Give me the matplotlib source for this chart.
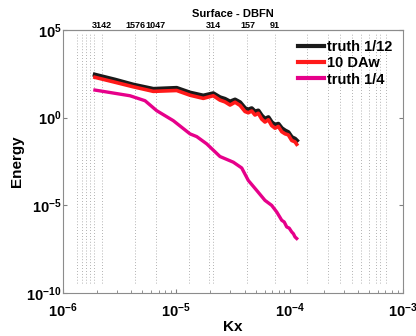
import matplotlib
matplotlib.use('Agg')
import matplotlib.pyplot as plt
import numpy as np

plt.rcParams['font.family'] = ['Liberation Sans', 'DejaVu Sans']
plt.rcParams['font.weight'] = 'bold'
plt.rcParams['mathtext.default'] = 'bf'

# ---- data (log10 values) ----
log_k = [-5.718, -5.541, -5.380, -5.203, -4.997, -4.879, -4.762, -4.674, -4.615,
         -4.571, -4.526, -4.482, -4.438, -4.394, -4.365, -4.335, -4.306, -4.277,
         -4.247, -4.218, -4.188, -4.159, -4.129, -4.100, -4.070, -4.041, -4.012,
         -3.982, -3.953, -3.938]
log_truth12 = [2.443, 2.159, 1.875, 1.631, 1.687, 1.420, 1.250, 1.381, 1.153,
               1.063, 0.909, 1.023, 0.869, 0.528, 0.455, 0.528, 0.341, 0.398,
               0.114, -0.074, 0.017, -0.267, -0.415, -0.358, -0.608, -0.739,
               -0.835, -1.119, -1.210, -1.307]
log_daw = [2.30, 2.02, 1.76, 1.50, 1.55, 1.28, 1.10, 1.25, 1.00, 0.90, 0.72, 0.88,
           0.70, 0.35, 0.28, 0.38, 0.15, 0.25, -0.08, -0.25, -0.12, -0.45, -0.60,
           -0.50, -0.80, -0.92, -0.98, -1.30, -1.38, -1.52]

log_k4 = [-5.718, -5.409, -5.276, -5.173, -5.027, -4.879, -4.820, -4.732, -4.615,
          -4.497, -4.423, -4.365, -4.291, -4.218, -4.159, -4.114, -4.070, -4.048,
          -4.026, -4.004, -3.982, -3.967, -3.953, -3.938]
log_truth4 = [1.574, 1.25, 0.966, 0.398, -0.170, -0.926, -1.08, -1.494, -2.216,
              -2.54, -2.869, -3.58, -4.148, -4.716, -5.0, -5.381, -5.852, -5.95,
              -6.233, -6.30, -6.517, -6.62, -6.801, -6.892]

# vertical guide lines and top labels (wavelength, km)
grid_k = [1.34e-6, 1.46e-6, 1.6e-6, 1.73e-6, 1.88e-6, 2.22e-6, 4.35e-6, 6.58e-6,
          1.30e-5, 1.95e-5, 2.12e-5, 4.24e-5, 7.38e-5, 1.43e-4, 2.17e-4, 2.79e-4,
          3.57e-4, 4.27e-4, 5.0e-4, 5.76e-4, 6.3e-4, 7.1e-4]
top_k = [2.22e-6, 4.35e-6, 6.58e-6, 2.12e-5, 4.24e-5, 7.38e-5]
top_labels = ['3142', '1576', '1047', '314', '157', '91']

fig = plt.figure(figsize=(4.16, 3.36), dpi=100)
ax = fig.add_axes([63/416, 43/336, 340/416, 263/336])

ax.vlines(grid_k, 10**-9.43, 10**4.83, colors='0.6', linestyles=(0, (1, 2.5)), linewidth=0.6)

ax.plot(10**np.array(log_k), 10**np.array(log_truth12), color='#1a1a1a', lw=3.2, label='truth 1/12')
ax.plot(10**np.array(log_k), 10**np.array(log_daw), color='#ff1a1a', lw=2.6, label='10 DAw')
ax.plot(10**np.array(log_k4), 10**np.array(log_truth4), color='#e6008a', lw=2.4, label='truth 1/4')

ax.set_xscale('log')
ax.set_yscale('log')
ax.set_xlim(1e-6, 1e-3)
ax.set_ylim(1e-10, 1e5)
ax.set_xticks([1e-6, 1e-5, 1e-4, 1e-3])
ax.set_yticks([1e-10, 1e-5, 1e0, 1e5])
ax.yaxis.set_minor_locator(matplotlib.ticker.NullLocator())
ax.tick_params(which='both', direction='in', labelsize=10.5, color='0.5', right=True)
ax.tick_params(which='major', length=3)
ax.tick_params(which='minor', length=2)
ax.tick_params(axis='x', pad=6)
ax.tick_params(axis='y', pad=1)
for s in ax.spines.values():
    s.set_color('0.55')
    s.set_linewidth(0.8)

ax.set_xlabel('Kx', fontsize=11, fontweight='bold', labelpad=0)
ax.set_ylabel('Energy', fontsize=11, fontweight='bold', labelpad=2)

top = ax.secondary_xaxis('top')
top.set_xticks(top_k)
top.set_xticklabels(top_labels)
top.xaxis.set_minor_locator(matplotlib.ticker.NullLocator())
top.tick_params(length=0, labelsize=6.5, pad=0)
top.spines['top'].set_color('0.55')
fig.text(233/416, 1 - 14/336, 'Surface - DBFN', ha='center', va='center',
         fontsize=8, fontweight='bold')

leg = ax.legend(loc='upper right', frameon=False, fontsize=10.5, handlelength=1.8,
                handletextpad=0.2, borderaxespad=0.3, labelspacing=0.15)
for h in leg.get_lines():
    h.set_linewidth(3)

fig.savefig('out.png', dpi=100)
